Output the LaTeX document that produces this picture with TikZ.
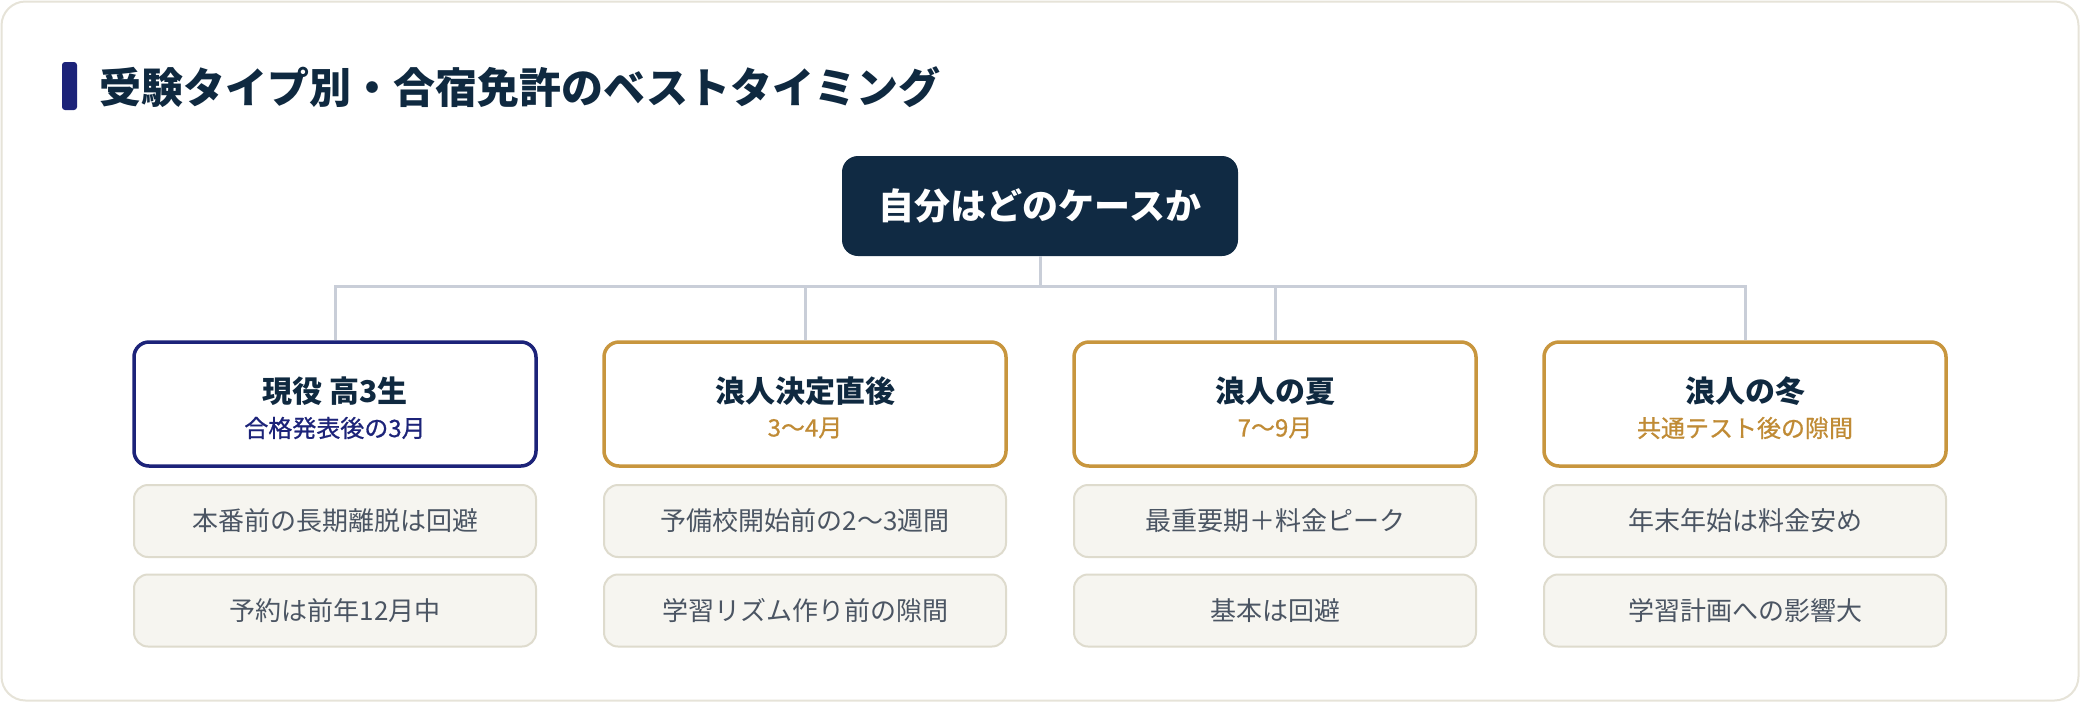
\documentclass[tikz,border=0pt]{standalone}
\usepackage{fontspec}
\setmainfont{Noto Sans CJK JP}
\newfontfamily\jp{Noto Sans CJK JP}
\newfontfamily\jpmed[FakeBold=0.8]{Noto Sans CJK JP}
\definecolor{ink}{HTML}{0F2940}
\definecolor{rootfill}{HTML}{102A43}
\definecolor{navyb}{HTML}{1C2379}
\definecolor{gold}{HTML}{C8963E}
\definecolor{goldtxt}{HTML}{C08B35}
\definecolor{detfill}{HTML}{F6F5F0}
\definecolor{detline}{HTML}{DEDBCD}
\definecolor{dettxt}{HTML}{4B5563}
\definecolor{conncol}{HTML}{C9CED8}
\definecolor{cardline}{HTML}{E6E3D8}
\tikzset{
  x=1pt, y=-1pt,
  rootbox/.style={fill=rootfill, rounded corners=16pt, minimum width=396pt, minimum height=100pt, inner sep=0pt},
  casebox/.style={fill=white, line width=3.5pt, rounded corners=15pt, minimum width=402pt, minimum height=124pt, inner sep=0pt},
  detbox/.style={fill=detfill, draw=detline, line width=2pt, rounded corners=14pt, minimum width=402pt, minimum height=72pt, inner sep=0pt, text=dettxt, font=\jp\fontsize{26}{30}\selectfont},
  casetitle/.style={inner sep=0pt, text=ink, font=\jp\bfseries\fontsize{30}{34}\selectfont},
  casesub/.style={inner sep=0pt, font=\jpmed\fontsize{24}{28}\selectfont},
  conn/.style={draw=conncol, line width=3pt},
}
\begin{document}
\begin{tikzpicture}
\useasboundingbox (0,0) rectangle (2080,702);
\draw[cardline, line width=2pt, fill=white, rounded corners=24pt] (1.5,1.5) rectangle (2078.5,700.5);
% title
\fill[navyb, rounded corners=3pt] (62,62) rectangle (77,110);
\node[anchor=west, inner sep=0pt, text=ink, font=\jp\bfseries\fontsize{42}{48}\selectfont] (title) at (99,87) {受験タイプ別・合宿免許のベストタイミング};
% root
\node[rootbox, text=white, font=\jp\bfseries\fontsize{36}{40}\selectfont] (root) at (1040,206) {自分はどのケースか};
% case boxes
\node[casebox, draw=navyb] (c1) at (335,404) {};
\node[casebox, draw=gold] (c2) at (805,404) {};
\node[casebox, draw=gold] (c3) at (1275,404) {};
\node[casebox, draw=gold] (c4) at (1745,404) {};
\node[casetitle] (c1t) at (335,391) {現役 高3生};
\node[casetitle] (c2t) at (805,391) {浪人決定直後};
\node[casetitle] (c3t) at (1275,391) {浪人の夏};
\node[casetitle] (c4t) at (1745,391) {浪人の冬};
\node[casesub, text=navyb] (c1s) at (335,428) {合格発表後の3月};
\node[casesub, text=goldtxt] (c2s) at (805,428) {3〜4月};
\node[casesub, text=goldtxt] (c3s) at (1275,428) {7〜9月};
\node[casesub, text=goldtxt] (c4s) at (1745,428) {共通テスト後の隙間};
% connectors
\coordinate (bus) at (1040,286);
\draw[conn] (root.south) -- (bus);
\draw[conn] (c1.north) |- (bus) -| (c4.north);
\draw[conn] (c2.north) -- (c2.north |- bus);
\draw[conn] (c3.north) -- (c3.north |- bus);
% detail boxes
\node[detbox] (d1a) at (335,521) {本番前の長期離脱は回避};
\node[detbox] (d1b) at (335,610.5) {予約は前年12月中};
\node[detbox] (d2a) at (805,521) {予備校開始前の2〜3週間};
\node[detbox] (d2b) at (805,610.5) {学習リズム作り前の隙間};
\node[detbox] (d3a) at (1275,521) {最重要期＋料金ピーク};
\node[detbox] (d3b) at (1275,610.5) {基本は回避};
\node[detbox] (d4a) at (1745,521) {年末年始は料金安め};
\node[detbox] (d4b) at (1745,610.5) {学習計画への影響大};
\end{tikzpicture}
\end{document}
